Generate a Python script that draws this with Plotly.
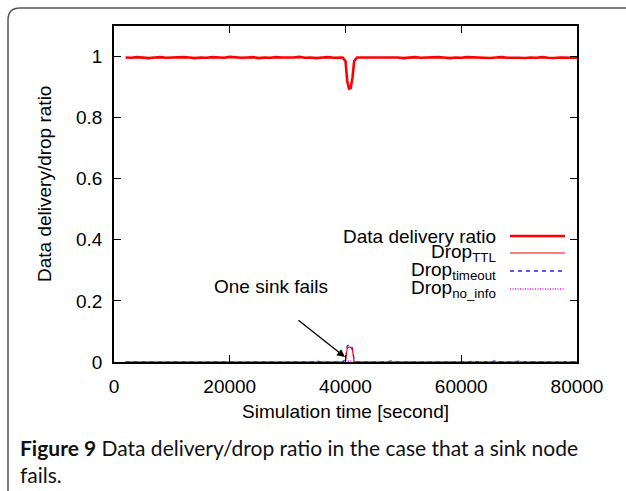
import plotly.graph_objects as go

# ---------------- data ----------------
time_s = [2000, 3000, 4000, 5000, 6000, 7000, 8000, 9000, 10000, 11000,
          12000, 13000, 14000, 15000, 16000, 17000, 18000, 19000, 20000, 21000,
          22000, 23000, 24000, 25000, 26000, 27000, 28000, 29000, 30000, 31000,
          32000, 33000, 34000, 35000, 36000, 37000, 38000, 39000,
          39500, 40000, 40300, 40600, 40900, 41200, 41500, 42000,
          43000, 44000, 45000, 46000, 47000, 48000, 49000, 50000, 51000, 52000,
          53000, 54000, 55000, 56000, 57000, 58000, 59000, 60000, 61000, 62000,
          63000, 64000, 65000, 66000, 67000, 68000, 69000, 70000, 71000, 72000,
          73000, 74000, 75000, 76000, 77000, 78000, 79000, 80000]

delivery_ratio = [0.997, 0.996, 0.998, 0.997, 0.995, 0.997, 0.998, 0.996, 0.997, 0.996,
                  0.998, 0.997, 0.995, 0.997, 0.996, 0.998, 0.997, 0.996, 0.999, 0.997,
                  0.996, 0.997, 0.998, 0.995, 0.997, 0.996, 0.998, 0.997, 0.996, 0.997,
                  0.999, 0.996, 0.997, 0.995, 0.997, 0.998, 0.996, 0.997,
                  0.997, 0.985, 0.920, 0.895, 0.897, 0.930, 0.985, 0.997,
                  0.997, 0.998, 0.996, 0.997, 0.998, 0.996, 0.997, 0.995, 0.997, 0.998,
                  0.996, 0.997, 0.996, 0.998, 0.997, 0.995, 0.997, 0.996, 0.998, 0.997,
                  0.996, 0.997, 0.995, 0.997, 0.998, 0.996, 0.997, 0.996, 0.995, 0.997,
                  0.996, 0.998, 0.996, 0.995, 0.997, 0.996, 0.997, 0.996]

drop_ttl = [0, 0, 0, 0, 0, 0, 0, 0, 0, 0,
            0, 0, 0, 0, 0, 0, 0, 0, 0, 0,
            0, 0, 0, 0, 0, 0, 0, 0, 0, 0,
            0, 0, 0, 0, 0, 0, 0, 0,
            0, 0, 0.045, 0.049, 0.048, 0.040, 0, 0,
            0, 0, 0, 0, 0, 0, 0, 0, 0, 0,
            0, 0, 0, 0, 0, 0, 0, 0, 0, 0,
            0, 0, 0, 0, 0, 0, 0, 0, 0, 0,
            0, 0, 0, 0, 0, 0, 0, 0]

drop_timeout = [0, 0, 0, 0, 0, 0, 0, 0, 0, 0,
                0, 0, 0, 0, 0, 0, 0, 0, 0.002, 0,
                0, 0, 0, 0, 0, 0, 0, 0, 0, 0,
                0, 0, 0, 0.003, 0, 0, 0, 0,
                0, 0.010, 0.052, 0.056, 0.054, 0.045, 0.005, 0,
                0, 0, 0, 0, 0, 0.004, 0, 0, 0, 0,
                0, 0, 0, 0, 0, 0, 0, 0, 0, 0.003,
                0, 0, 0, 0.004, 0, 0, 0, 0.003, 0, 0,
                0, 0, 0.002, 0, 0, 0, 0, 0]

drop_no_info = [0, 0, 0, 0, 0, 0.002, 0, 0, 0, 0,
                0, 0, 0, 0, 0, 0, 0, 0, 0, 0,
                0, 0, 0, 0, 0, 0.002, 0, 0, 0, 0,
                0, 0, 0, 0, 0, 0, 0, 0,
                0, 0, 0.003, 0.004, 0.003, 0.002, 0, 0,
                0, 0, 0, 0, 0, 0, 0, 0, 0, 0,
                0, 0, 0.002, 0, 0, 0, 0, 0, 0, 0,
                0, 0, 0, 0, 0, 0, 0, 0, 0, 0,
                0.002, 0, 0, 0, 0, 0, 0, 0]

x_ticks = [0, 20000, 40000, 60000, 80000]
x_tick_labels = ["0", "20000", "40000", "60000", "80000"]
y_ticks = [0, 0.2, 0.4, 0.6, 0.8, 1]
y_tick_labels = ["0", "0.2", "0.4", "0.6", "0.8", "1"]

series_names = ["Data delivery ratio", "Drop<sub>TTL</sub>",
                "Drop<sub>timeout</sub>", "Drop<sub>no_info</sub>"]

# ---------------- layout helpers ----------------
W, H = 626, 491
ML, MR, MT, MB = 114, 49, 26, 129
PW, PH = W - ML - MR, H - MT - MB


def px(x):
    return (x - ML) / PW


def py(y):
    return (H - MB - y) / PH


FONT = "Liberation Sans, Arial, Helvetica, sans-serif"

styles = [
    dict(color="#ff0000", width=2.6),
    dict(color="#ff0000", width=1.2),
    dict(color="#2020ff", width=1.3, dash="4px,4px"),
    dict(color="#ff00ff", width=1.6, dash="1px,1.5px"),
]
series = [delivery_ratio, drop_ttl, drop_timeout, drop_no_info]

fig = go.Figure()
# draw the drops first, delivery on top
for name, vals, st in list(zip(series_names, series, styles))[::-1]:
    fig.add_trace(go.Scatter(x=time_s, y=vals, mode="lines", name=name,
                             line=st, showlegend=False))

fig.update_layout(
    width=W, height=H,
    margin=dict(l=ML, r=MR, t=MT, b=MB, pad=0),
    paper_bgcolor="white", plot_bgcolor="white",
    font=dict(family=FONT, size=19, color="black"),
    showlegend=False,
)
axis_common = dict(showgrid=False, zeroline=False, showline=True, mirror="ticks",
                   linecolor="black", linewidth=1.5, ticks="inside", ticklen=7,
                   tickwidth=1.2, tickcolor="black",
                   tickfont=dict(family=FONT, size=19, color="black"))
fig.update_xaxes(range=[0, 80000], tickvals=x_ticks, ticktext=x_tick_labels,
                 ticklabelstandoff=6, **axis_common)
fig.update_yaxes(range=[0, 1.1], tickvals=y_ticks, ticktext=y_tick_labels,
                 ticklabelstandoff=6, **axis_common)

annotations = []
# axis titles
annotations.append(dict(xref="paper", yref="paper", x=px(345), y=py(411),
                        text="Simulation time [second]", showarrow=False,
                        xanchor="center", yanchor="middle",
                        font=dict(family=FONT, size=19)))
annotations.append(dict(xref="paper", yref="paper", x=px(44), y=py(184),
                        text="Data delivery/drop ratio", showarrow=False,
                        textangle=-90, xanchor="center", yanchor="middle",
                        font=dict(family=FONT, size=19)))
# event annotation
annotations.append(dict(xref="x", yref="y", x=39900, y=0.016, ax=-48, ay=-38,
                        text="", showarrow=True, arrowhead=2, arrowsize=1.2,
                        arrowwidth=1.3, arrowcolor="black"))
annotations.append(dict(xref="paper", yref="paper", x=px(271), y=py(286),
                        text="One sink fails", showarrow=False,
                        xanchor="center", yanchor="middle",
                        font=dict(family=FONT, size=19)))

# manual legend (text left of sample line, gnuplot style)
legend_y = [236, 253, 271, 289]
shapes = []
for name, st, ly in zip(series_names, styles, legend_y):
    annotations.append(dict(xref="paper", yref="paper", x=px(498), y=py(ly),
                            text=name, showarrow=False, xanchor="right",
                            yanchor="middle", font=dict(family=FONT, size=19)))
    shapes.append(dict(type="line", xref="paper", yref="paper",
                       x0=px(510), x1=px(565), y0=py(ly), y1=py(ly), line=st))

# caption
annotations.append(dict(xref="paper", yref="paper", x=px(18), y=py(433),
                        xanchor="left", yanchor="top", align="left",
                        showarrow=False,
                        text="<b>Figure 9</b> Data delivery/drop ratio in the case that a sink node<br>fails.",
                        font=dict(family="Lato, Open Sans, sans-serif", size=21,
                                  color="#111")))

# outer frame (rounded top-left corner)
frame = (f"M {px(8)},{py(495)} L {px(8)},{py(20)} "
         f"Q {px(8)},{py(8)} {px(20)},{py(8)} L {px(640)},{py(8)}")
shapes.append(dict(type="path", xref="paper", yref="paper", path=frame,
                   line=dict(color="#555", width=1.5)))

fig.update_layout(annotations=annotations, shapes=shapes)
fig.write_html("out.html")
